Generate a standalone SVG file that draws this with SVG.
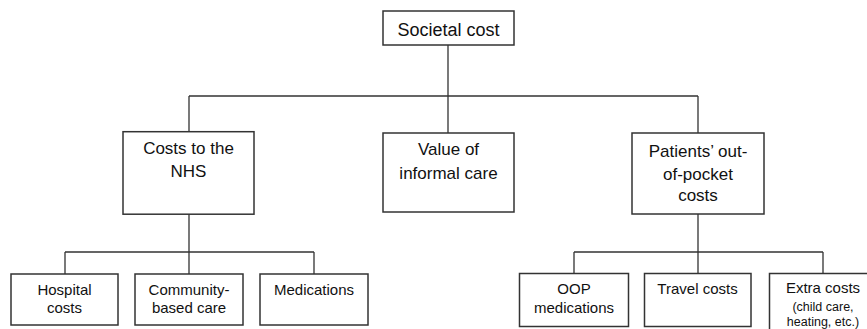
<svg xmlns="http://www.w3.org/2000/svg" width="867" height="329" viewBox="0 0 867 329">
<style>
  .box { fill: #ffffff; stroke: #333333; stroke-width: 1.5; }
  .conn { fill: none; stroke: #333333; stroke-width: 1.3; }
  text { font-family: "Liberation Sans", Arial, sans-serif; fill: #111111; text-anchor: middle; }
  .t1 { font-size: 18px; }
  .t2 { font-size: 17px; }
  .t3 { font-size: 15px; }
  .t4 { font-size: 12.5px; }
</style>
<rect x="0" y="0" width="867" height="329" fill="#ffffff"/>
<g id="connectors">
  <path class="conn" d="M448,45 V96 M189,96 H698 M189,96 V131.7 M448,96 V133 M698,96 V133"/>
  <path class="conn" d="M189,214 V252 M65,252 H314 M65,252 V274 M189,252 V274 M314,252 V274"/>
  <path class="conn" d="M698,214 V252 M574,252 H823 M574,252 V273.5 M698,252 V273.5 M823,252 V273.5"/>
</g>
<g id="societal-cost">
  <rect class="box" x="383" y="11" width="131" height="34"/>
  <text class="t1" x="448.5" y="35.5">Societal cost</text>
</g>
<g id="costs-nhs">
  <rect class="box" x="123" y="131.7" width="131" height="82.5"/>
  <text class="t2" x="188.5" y="154">Costs to the</text>
  <text class="t2" x="188.5" y="176.5">NHS</text>
</g>
<g id="informal-care">
  <rect class="box" x="383" y="133" width="131" height="79"/>
  <text class="t2" x="448.5" y="155">Value of</text>
  <text class="t2" x="448.5" y="179">informal care</text>
</g>
<g id="oop-costs">
  <rect class="box" x="632" y="133" width="132" height="81"/>
  <text class="t2" x="698" y="156.5">Patients’ out-</text>
  <text class="t2" x="698" y="180">of-pocket</text>
  <text class="t2" x="698" y="200.5">costs</text>
</g>
<g id="hospital-costs">
  <rect class="box" x="11" y="274" width="107" height="51"/>
  <text class="t3" x="64.5" y="294.5">Hospital</text>
  <text class="t3" x="64.5" y="313">costs</text>
</g>
<g id="community-care">
  <rect class="box" x="135" y="274" width="108" height="51"/>
  <text class="t3" x="189" y="294.5">Community-</text>
  <text class="t3" x="189" y="313">based care</text>
</g>
<g id="medications">
  <rect class="box" x="260" y="274" width="108" height="51"/>
  <text class="t3" x="314" y="294.5">Medications</text>
</g>
<g id="oop-medications">
  <rect class="box" x="519.5" y="273.5" width="109" height="53"/>
  <text class="t3" x="574" y="294">OOP</text>
  <text class="t3" x="574" y="312.5">medications</text>
</g>
<g id="travel-costs">
  <rect class="box" x="644.5" y="273.5" width="106.5" height="53"/>
  <text class="t3" x="697.5" y="294">Travel costs</text>
</g>
<g id="extra-costs">
  <rect class="box" x="769.5" y="273.5" width="108" height="62"/>
  <text class="t3" x="823" y="293">Extra costs</text>
  <text class="t4" x="823" y="310.5">(child care,</text>
  <text class="t4" x="823" y="325.5">heating, etc.)</text>
</g>
</svg>
